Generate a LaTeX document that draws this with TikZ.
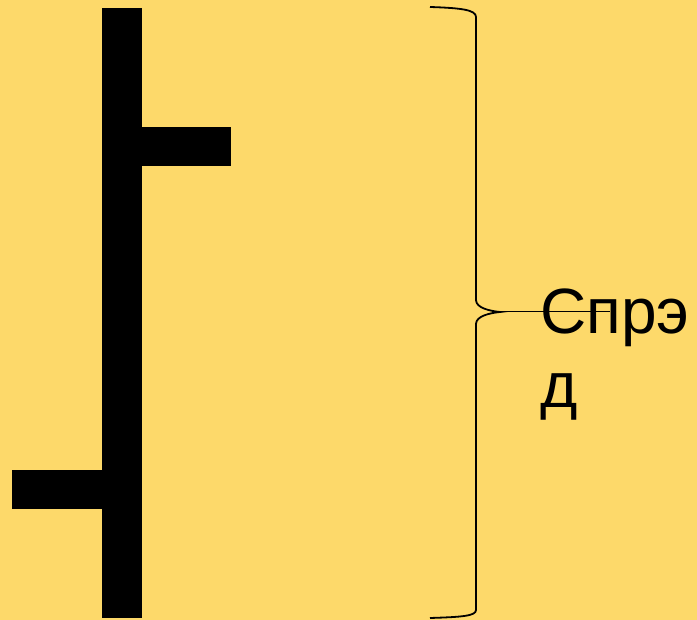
\documentclass[tikz,border=0pt]{standalone}
\usepackage{fontspec}
\setmainfont{Liberation Sans}
\definecolor{bgyellow}{RGB}{253,217,106}
\begin{document}
\begin{tikzpicture}[x=1pt,y=-1pt,
  bar/.style={fill=black,draw=none},
  brace/.style={draw=black,line width=1.8pt},
  label/.style={font=\fontsize{64}{74}\selectfont,align=left,inner sep=0pt,anchor=north west}]
\fill[bgyellow] (0,0) rectangle (697,620);
\useasboundingbox (0,0) rectangle (697,620);
% chart-like bar with ticks
\fill[bar] (102,8) rectangle (142,618);
\fill[bar] (142,127) rectangle (231,166);
\fill[bar] (12,470) rectangle (102,509);
% brace
\draw[brace] (430,7) .. controls (462,8) and (476,10) .. (476,17)
  -- (476,300) .. controls (476,308) and (490,311) .. (500,312)
  .. controls (490,313) and (476,316) .. (476,324)
  -- (476,610) .. controls (476,616) and (462,617) .. (430,618);
\coordinate (tip) at (500,312);
\node[label] (txt) at (540,289) {Спрэ\\д};
\coordinate (lend) at (610,312);
\draw[line width=1pt] (tip) -- (lend);
\end{tikzpicture}
\end{document}
